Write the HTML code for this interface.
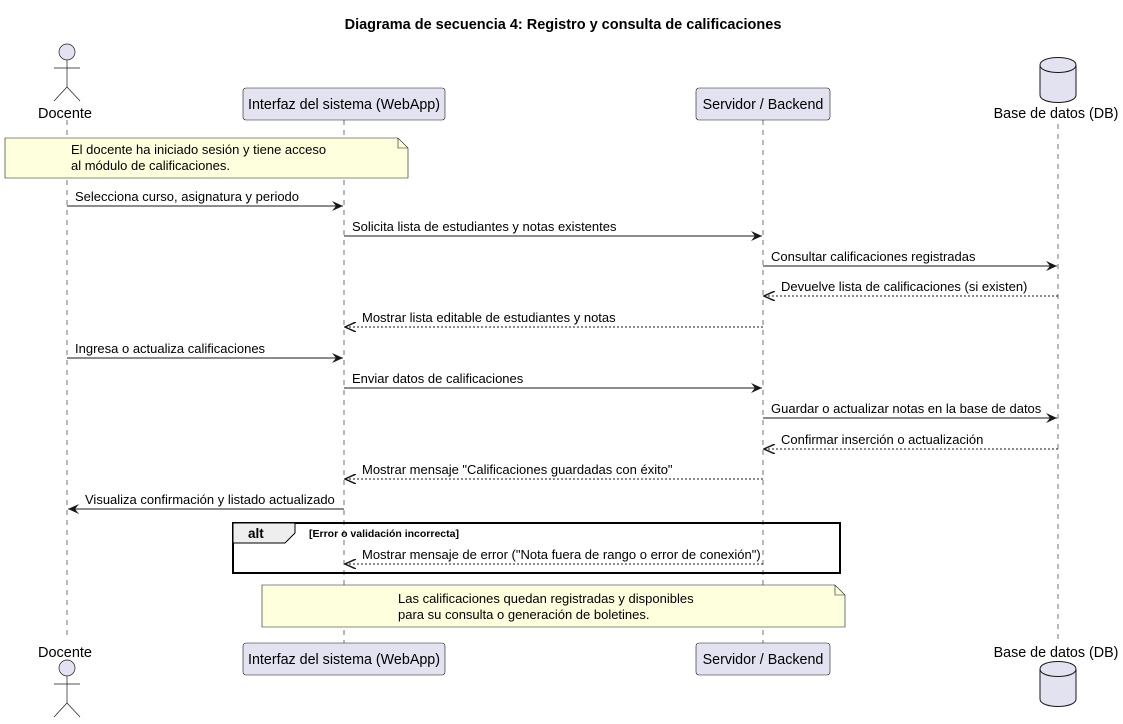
<!DOCTYPE html>
<html><head><meta charset="utf-8"><style>
html,body{margin:0;padding:0;background:#fff}
svg{display:block}
text{font-family:"Liberation Sans",sans-serif;font-size:13px;fill:#000}
text.p{font-size:14.3px}
</style></head><body>
<svg width="1123" height="724" viewBox="0 0 1123 724" xmlns="http://www.w3.org/2000/svg">
<defs>
<marker id="a" markerWidth="12" markerHeight="10" refX="11" refY="5" orient="auto" markerUnits="userSpaceOnUse">
<path d="M0,0 L11,5 L0,10 L4,5 Z" fill="#181818"/></marker>
<marker id="o" markerWidth="12" markerHeight="10" refX="11" refY="5" orient="auto" markerUnits="userSpaceOnUse">
<path d="M0,0 L11,5 L0,10" fill="none" stroke="#181818" stroke-width="1.5"/></marker>
</defs>
<text x="563" y="29" text-anchor="middle" style="font-weight:bold;font-size:14.5px">Diagrama de secuencia 4: Registro y consulta de calificaciones</text>
<g stroke="#181818" stroke-width="0.6" stroke-dasharray="5,5">
<line x1="67" y1="120" x2="67" y2="640"/>
<line x1="344" y1="120" x2="344" y2="643"/>
<line x1="763" y1="120" x2="763" y2="643"/>
<line x1="1058" y1="124" x2="1058" y2="640"/>
</g>
<g stroke="#181818" stroke-width="0.7" fill="none">
<circle cx="67" cy="52" r="8" fill="#E2E2F0"/>
<line x1="67" y1="60" x2="67" y2="87"/><line x1="54" y1="68" x2="80" y2="68"/>
<line x1="67" y1="87" x2="54" y2="101"/><line x1="67" y1="87" x2="80" y2="101"/>
<circle cx="67" cy="668" r="8" fill="#E2E2F0"/>
<line x1="67" y1="676" x2="67" y2="703"/><line x1="54" y1="684" x2="80" y2="684"/>
<line x1="67" y1="703" x2="54" y2="717"/><line x1="67" y1="703" x2="80" y2="717"/>
</g>
<text x="65" y="118" text-anchor="middle" style="font-size:14.5px">Docente</text>
<text x="65" y="657" text-anchor="middle" style="font-size:14.5px">Docente</text>
<g fill="#E2E2F0" stroke="#181818" stroke-width="0.6">
<rect x="243" y="88" width="202" height="32" rx="3"/>
<rect x="696" y="88" width="134" height="32" rx="3"/>
<rect x="243" y="643" width="202" height="32" rx="3"/>
<rect x="696" y="643" width="134" height="32" rx="3"/>
</g>
<text class="p" x="344" y="109" text-anchor="middle">Interfaz del sistema (WebApp)</text>
<text class="p" x="763" y="109" text-anchor="middle">Servidor / Backend</text>
<text class="p" x="344" y="664" text-anchor="middle">Interfaz del sistema (WebApp)</text>
<text class="p" x="763" y="664" text-anchor="middle">Servidor / Backend</text>
<text class="p" x="1056" y="118" text-anchor="middle">Base de datos (DB)</text>
<text class="p" x="1056" y="657" text-anchor="middle">Base de datos (DB)</text>
<g fill="#E2E2F0" stroke="#181818" stroke-width="1">
<path d="M1040,65 C1040,55 1076,55 1076,65 L1076,95 C1076,105 1040,105 1040,95 Z"/>
<path d="M1040,65 C1040,75 1076,75 1076,65" fill="none"/>
<path d="M1040,669 C1040,659 1076,659 1076,669 L1076,699 C1076,709 1040,709 1040,699 Z"/>
<path d="M1040,669 C1040,679 1076,679 1076,669" fill="none"/>
</g>
<path d="M5,138 L398,138 L408,148 L408,178 L5,178 Z" fill="#FEFFDD" stroke="#181818" stroke-width="0.6"/>
<path d="M398,138 L398,148 L408,148" fill="none" stroke="#181818" stroke-width="0.6"/>
<text x="71" y="154">El docente ha iniciado sesión y tiene acceso</text>
<text x="71" y="170">al módulo de calificaciones.</text>
<g stroke="#181818" stroke-width="1" fill="none">
<line x1="67" y1="206" x2="343" y2="206" marker-end="url(#a)"/>
<line x1="344" y1="236" x2="762" y2="236" marker-end="url(#a)"/>
<line x1="763" y1="266" x2="1057" y2="266" marker-end="url(#a)"/>
<line x1="1058" y1="296" x2="764" y2="296" stroke-dasharray="2,2" marker-end="url(#o)"/>
<line x1="763" y1="327" x2="345" y2="327" stroke-dasharray="2,2" marker-end="url(#o)"/>
<line x1="67" y1="358" x2="343" y2="358" marker-end="url(#a)"/>
<line x1="344" y1="388" x2="762" y2="388" marker-end="url(#a)"/>
<line x1="763" y1="418" x2="1057" y2="418" marker-end="url(#a)"/>
<line x1="1058" y1="449" x2="764" y2="449" stroke-dasharray="2,2" marker-end="url(#o)"/>
<line x1="763" y1="479" x2="345" y2="479" stroke-dasharray="2,2" marker-end="url(#o)"/>
<line x1="344" y1="509" x2="68" y2="509" marker-end="url(#a)"/>
<line x1="763" y1="564" x2="345" y2="564" stroke-dasharray="2,2" marker-end="url(#o)"/>
</g>
<text x="75" y="201">Selecciona curso, asignatura y periodo</text>
<text x="352" y="231">Solicita lista de estudiantes y notas existentes</text>
<text x="771" y="261">Consultar calificaciones registradas</text>
<text x="781" y="291">Devuelve lista de calificaciones (si existen)</text>
<text x="362" y="322">Mostrar lista editable de estudiantes y notas</text>
<text x="75" y="353">Ingresa o actualiza calificaciones</text>
<text x="352" y="383">Enviar datos de calificaciones</text>
<text x="771" y="413">Guardar o actualizar notas en la base de datos</text>
<text x="781" y="444">Confirmar inserción o actualización</text>
<text x="362" y="474">Mostrar mensaje "Calificaciones guardadas con éxito"</text>
<text x="85" y="504">Visualiza confirmación y listado actualizado</text>
<rect x="233" y="523" width="607" height="50" fill="none" stroke="#000" stroke-width="2"/>
<path d="M233,523 L295,523 L295,533 L285,543 L233,543 Z" fill="#EEEEEE" stroke="#000" stroke-width="1"/>
<text x="248" y="538" style="font-weight:bold;font-size:13.5px">alt</text>
<text x="309" y="537" style="font-weight:bold;font-size:10.5px">[Error o validación incorrecta]</text>
<text x="362" y="559">Mostrar mensaje de error ("Nota fuera de rango o error de conexión")</text>
<path d="M262,585 L835,585 L845,595 L845,627 L262,627 Z" fill="#FEFFDD" stroke="#181818" stroke-width="0.6"/>
<path d="M835,585 L835,595 L845,595" fill="none" stroke="#181818" stroke-width="0.6"/>
<text x="398" y="603">Las calificaciones quedan registradas y disponibles</text>
<text x="398" y="619">para su consulta o generación de boletines.</text>
</svg>
</body></html>
